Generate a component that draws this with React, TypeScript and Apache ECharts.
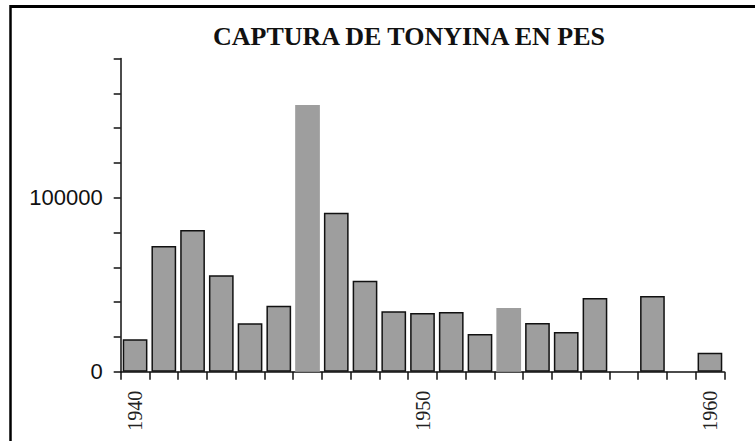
import React, { useEffect, useRef } from "react";
import * as echarts from "echarts";

const years = ["1940","1941","1942","1943","1944","1945","1946","1947","1948","1949","1950","1951","1952","1953","1954","1955","1956","1957","1958","1959","1960"];
const catches: (number | null)[] = [18600, 72200, 81400, 55400, 27800, 37900, 153300, 91400, 52300, 34700, 33700, 34300, 21700, 36600, 28000, 22800, 42400, null, 43500, null, 10900];
const noOutline = ["1946", "1953"];
const shownYears = ["1940", "1950", "1960"];
const shownValues = [0, 100000];
const title = "CAPTURA DE TONYINA EN PES";

export default function App() {
  const ref = useRef<HTMLDivElement>(null);
  useEffect(() => {
    if (!ref.current) return;
    const chart = echarts.init(ref.current, null, { renderer: "svg" });
    chart.setOption({
      animation: false,
      backgroundColor: "#ffffff",
      title: {
        text: title,
        left: 404,
        top: 18,
        textAlign: "center",
        textStyle: { fontFamily: "Liberation Serif", fontWeight: "bold", fontSize: 26, color: "#111" },
      },
      graphic: [
        { type: "line", shape: { x1: 10, y1: 6.5, x2: 760, y2: 6.5 }, style: { stroke: "#000", lineWidth: 3 } },
        { type: "line", shape: { x1: 10.5, y1: 5, x2: 10.5, y2: 445 }, style: { stroke: "#000", lineWidth: 2.5 } },
      ],
      grid: { left: 120.7, right: 30.7, top: 58.5, bottom: 69.3 },
      xAxis: {
        type: "category",
        data: years,
        boundaryGap: true,
        axisLine: { lineStyle: { color: "#111", width: 1.5 } },
        axisTick: { show: true, interval: 0, length: 8, lineStyle: { color: "#111", width: 1.5 } },
        axisLabel: {
          interval: (i: number, v: string) => shownYears.includes(v),
          rotate: 90,
          margin: 19,
          fontFamily: "Liberation Serif",
          fontSize: 20,
          color: "#222",
        },
      },
      yAxis: {
        type: "value",
        min: 0,
        max: 180000,
        interval: 20000,
        splitLine: { show: false },
        axisLine: { show: true, lineStyle: { color: "#111", width: 1.5 } },
        axisTick: { show: true, length: 7, lineStyle: { color: "#111", width: 1.5 } },
        axisLabel: {
          formatter: (v: number) => (shownValues.includes(v) ? String(v) : ""),
          margin: 18,
          fontFamily: "Liberation Sans",
          fontSize: 22,
          color: "#111",
        },
      },
      series: [
        {
          type: "bar",
          barCategoryGap: "14%",
          data: catches.map((v, i) => ({
            value: v === null ? "-" : v,
            itemStyle: {
              color: "#9e9e9e",
              borderColor: "#111",
              borderWidth: noOutline.includes(years[i]) ? 0 : 1.5,
            },
          })),
        },
      ],
    });
    return () => chart.dispose();
  }, []);
  return (
    <div style={{ position: "absolute", left: 0, top: 0, width: 755, height: 441 }}>
      <div ref={ref} style={{ width: 755, height: 441 }} />
    </div>
  );
}
